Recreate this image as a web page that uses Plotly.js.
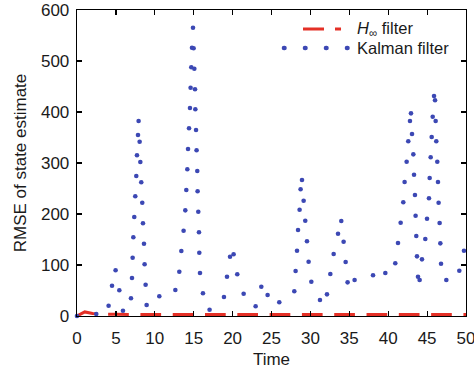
<!DOCTYPE html>
<html>
<head>
<meta charset="utf-8">
<script src="https://cdn.plot.ly/plotly-3.0.1.min.js"></script>
<style>
  html, body { margin: 0; padding: 0; background: #fff; }
  #chart { width: 474px; height: 369px; }
  .shapelayer path[style*="72, 180"] { stroke-linecap: round; }
</style>
</head>
<body>
<div id="chart"></div>
<script>
// H-infinity filter RMSE at integer time steps
const timeSteps = [0,1,2,3,4,5,6,7,8,9,10,11,12,13,14,15,16,17,18,19,20,21,22,23,24,25,26,27,28,29,30,31,32,33,34,35,36,37,38,39,40,41,42,43,44,45,46,47,48,49,50];
const hinfRmse = [0,8,5,3.8,3.4,3.2,3.1,3,3,3,3,3,3,3,3,3,3,3,3,3,3,3,3,3,3,3,3,3,3,3,3,3,3,3,3,3,3,3,3,3,3,3,3,3,3,3,3,3,3,3,3];

// Kalman filter RMSE, dots of the dotted curve
const kalmanTime = [0,2.48,4.06,4.50,4.96,5.44,5.91,6.94,7.07,7.15,7.24,7.36,7.49,7.62,7.71,7.84,7.92,8.05,8.14,8.26,8.39,8.48,8.61,8.69,8.82,8.95,10.58,
  12.64,13.15,13.41,13.70,13.92,14.05,14.18,14.27,14.40,14.52,14.60,14.69,14.78,14.91,14.99,15.08,15.17,15.21,15.30,15.37,15.46,15.50,15.59,15.68,15.72,15.81,16.19,17.04,18.89,19.28,19.67,20.13,20.60,21.42,22.96,23.69,24.50,26.00,
  27.93,28.10,28.28,28.41,28.61,28.74,28.92,29.13,29.34,29.56,29.77,30.12,31.23,32.13,32.56,32.99,33.55,33.97,34.27,34.53,34.78,35.68,38.05,39.63,40.91,41.26,41.60,41.94,42.11,42.37,42.58,42.80,42.93,43.06,43.23,43.32,43.44,43.52,43.61,43.70,43.83,44.04,44.34,44.77,44.99,45.24,45.33,45.46,45.59,45.72,45.89,46.02,46.10,46.18,46.31,46.40,46.48,46.61,46.70,46.79,47.47,49.14,49.74];
const kalmanRmse = [0,3.9,20.2,59.4,89.6,50.4,10.4,34.7,74.5,114.3,154.3,194.1,234.7,274.5,315.1,354.9,382.4,341.8,302,262.2,222.2,181.8,141.8,101.4,61.4,21.6,38.6,
  51,86.9,127.5,167.3,207.2,247,287.6,327.5,368,407.8,447.6,487.6,526.1,565.3,524.9,484.9,444.5,405.3,364.7,324.9,284.3,244.5,204.5,164.1,124.1,84.3,44.5,12.4,37.3,77.1,116.3,121,81.8,43.7,19,57.5,41.2,26.9,
  48.4,88.2,128,168.6,208.4,248.4,266.7,226.1,186.9,146.5,106.5,67.3,31.4,42.5,82.4,121.6,161.4,186.3,145.7,105.9,66,70.6,79.8,84.3,103.3,143.1,182.9,222.9,262.7,302.5,342.5,382.4,397.4,356.9,317,277.1,237.3,196.7,156.9,117,77.1,70.6,111.1,151,190.8,230.8,270.6,311.2,351,390.8,431.4,422.9,382.4,342.5,302.5,262.7,222.2,182.4,142.5,102.5,70.6,88.8,128];

const xTicks = [0,5,10,15,20,25,30,35,40,45,50];
const yTicks = [0,100,200,300,400,500,600];
const seriesNames = ['<i>H</i><sub>∞</sub> filter', 'Kalman filter'];

const RED = 'rgb(228,48,38)';
const BLUE = 'rgb(60,72,180)';
const FONT = 'Liberation Sans, Arial, sans-serif';
const TXT = '#1a1a1a';

const traces = [
  {
    x: timeSteps, y: hinfRmse, type: 'scatter', mode: 'lines',
    line: {color: RED, width: 3, dash: '20.7px,11.6px'},
    cliponaxis: false, showlegend: false, hoverinfo: 'skip'
  },
  {
    x: kalmanTime, y: kalmanRmse, type: 'scatter', mode: 'markers',
    marker: {color: BLUE, size: 4.6, line: {width: 0}},
    cliponaxis: false, showlegend: false, hoverinfo: 'skip'
  }
];

const axisCommon = {
  showline: true, linecolor: '#000', linewidth: 1.3, mirror: 'ticks',
  ticks: 'inside', ticklen: 5, tickwidth: 1.2, tickcolor: '#000',
  showgrid: false, zeroline: false, ticklabeloverflow: 'allow',
  tickfont: {family: FONT, size: 17, color: TXT}
};

const layout = {
  width: 474, height: 369,
  margin: {l: 77, r: 8, t: 10, b: 53},
  paper_bgcolor: '#fff', plot_bgcolor: '#fff',
  showlegend: false,
  xaxis: Object.assign({}, axisCommon, {
    range: [0, 50], tickvals: xTicks, ticktext: xTicks.map(String),
    ticklabelstandoff: 6,
    title: {text: 'Time', font: {family: FONT, size: 17, color: TXT}, standoff: 6}
  }),
  yaxis: Object.assign({}, axisCommon, {
    range: [0, 600], tickvals: yTicks, ticktext: yTicks.map(String),
    ticklabelstandoff: 3,
    title: {text: 'RMSE of state estimate', font: {family: FONT, size: 17, color: TXT}, standoff: 10}
  }),
  shapes: [
    {type: 'line', xref: 'paper', yref: 'paper', x0: 0.581, x1: 0.6787, y0: 0.938, y1: 0.938,
     line: {color: RED, width: 3, dash: '21px,11px'}},
    {type: 'line', xref: 'paper', yref: 'paper', x0: 0.5321, x1: 0.6967, y0: 0.8758, y1: 0.8758,
     line: {color: BLUE, width: 4.6, dash: '0.5px,20.5px'}}
  ],
  annotations: [
    {xref: 'paper', yref: 'paper', x: 0.7147, y: 0.938, xanchor: 'left', yanchor: 'middle',
     text: seriesNames[0], showarrow: false, font: {family: FONT, size: 16.5, color: TXT}},
    {xref: 'paper', yref: 'paper', x: 0.7147, y: 0.8758, xanchor: 'left', yanchor: 'middle',
     text: seriesNames[1], showarrow: false, font: {family: FONT, size: 16.5, color: TXT}}
  ]
};

Plotly.newPlot('chart', traces, layout, {staticPlot: true, displayModeBar: false});
</script>
</body>
</html>
